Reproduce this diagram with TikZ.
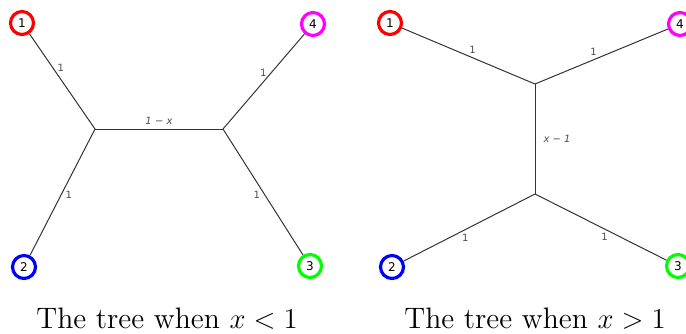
\documentclass[tikz,border=0pt]{standalone}
\usepackage{amsmath,amssymb}
\usepackage{fontspec}
\newfontfamily\lblfont{DejaVu Sans}
\usetikzlibrary{calc}
\definecolor{leafmag}{RGB}{255,0,255}

\begin{document}
\begin{tikzpicture}[x=0.5pt,y=-0.5pt,
  leaf/.style={circle,draw,line width=1.6pt,minimum size=11.5pt,inner sep=0pt,font=\lblfont\fontsize{6}{7}\selectfont},
  branch/.style={black!80,line width=0.5pt},
  wt/.style={font=\lblfont\fontsize{5}{6}\selectfont,text=black!70,inner sep=2pt}]
  \useasboundingbox (0,0) rectangle (686,333);
  % Tree for x<1
  \node[leaf,red]     (l1) at (22,23)   {\textcolor{black}{1}};
  \node[leaf,blue]    (l2) at (24,267)  {\textcolor{black}{2}};
  \node[leaf,green]   (l3) at (310,266) {\textcolor{black}{3}};
  \node[leaf,leafmag] (l4) at (313,24)  {\textcolor{black}{4}};
  \coordinate (la) at (95,129);
  \coordinate (lb) at (223,129);
  \draw[branch] (la)--(l1) node[wt,pos=.64,right]{1};
  \draw[branch] (la)--(l2) node[wt,pos=.52,right]{1};
  \draw[branch] (lb)--(l3) node[wt,pos=.52,left]{1};
  \draw[branch] (lb)--(l4) node[wt,pos=.59,left]{1};
  \draw[branch] (la)--(lb) node[wt,midway,above]{\itshape 1 − x};
  % Tree for x>1
  \node[leaf,red]     (r1) at (390,23)  {\textcolor{black}{1}};
  \node[leaf,blue]    (r2) at (392,267) {\textcolor{black}{2}};
  \node[leaf,green]   (r3) at (678,266) {\textcolor{black}{3}};
  \node[leaf,leafmag] (r4) at (680,24)  {\textcolor{black}{4}};
  \coordinate (ra) at (535,84);
  \coordinate (rb) at (535,194);
  \draw[branch] (r1)--(ra) node[wt,pos=.53,above]{1};
  \draw[branch] (ra)--(r4) node[wt,pos=.44,above]{1};
  \draw[branch] (rb)--(r2) node[wt,pos=.53,below]{1};
  \draw[branch] (rb)--(r3) node[wt,pos=.53,below]{1};
  \draw[branch] (ra)--(rb) node[wt,midway,right,inner sep=4pt]{\itshape x − 1};
  % Captions
  \node[font=\fontsize{14.8}{18}\selectfont] (capl) at (167,319) {The tree when $x<1$};
  \node[font=\fontsize{14.8}{18}\selectfont] (capr) at (535,319) {The tree when $x>1$};
\end{tikzpicture}
\end{document}
